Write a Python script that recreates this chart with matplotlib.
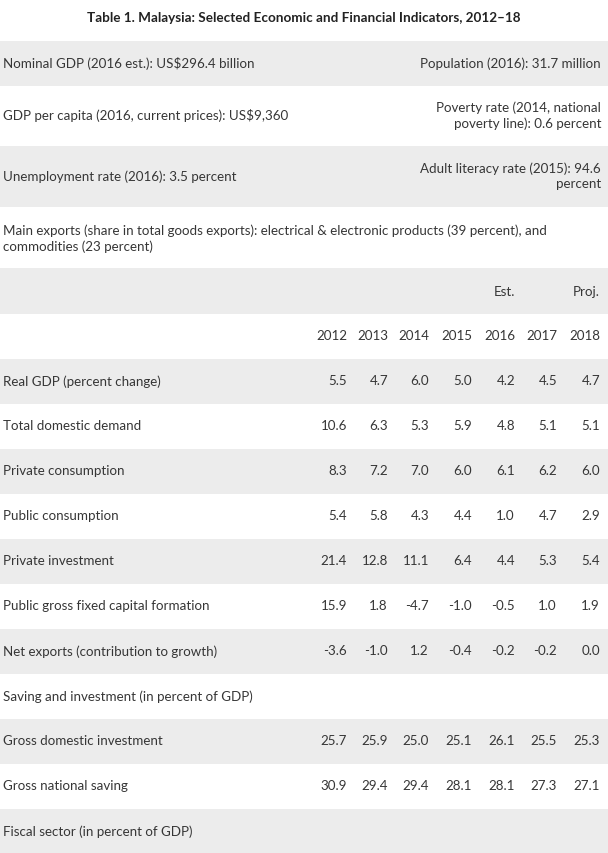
import matplotlib
matplotlib.use("Agg")
import matplotlib.pyplot as plt
from matplotlib.patches import Rectangle

plt.rcParams['font.family'] = ['Lato', 'DejaVu Sans']

title = "Table 1. Malaysia: Selected Economic and Financial Indicators, 2012\u201318"

info_left = [
    "Nominal GDP (2016 est.): US$296.4 billion",
    "GDP per capita (2016, current prices): US$9,360",
    "Unemployment rate (2016): 3.5 percent",
]
info_right = [
    "Population (2016): 31.7 million",
    "Poverty rate (2014, national\npoverty line): 0.6 percent",
    "Adult literacy rate (2015): 94.6\npercent",
]
exports_note = ("Main exports (share in total goods exports): electrical & electronic products (39 percent), and\n"
                "commodities (23 percent)")

years = ['2012', '2013', '2014', '2015', '2016', '2017', '2018']
year_notes = ['', '', '', '', 'Est.', '', 'Proj.']

row_labels = [
    "Real GDP (percent change)",
    "Total domestic demand",
    "Private consumption",
    "Public consumption",
    "Private investment",
    "Public gross fixed capital formation",
    "Net exports (contribution to growth)",
    "Saving and investment (in percent of GDP)",
    "Gross domestic investment",
    "Gross national saving",
    "Fiscal sector (in percent of GDP)",
]
row_values = [
    [5.5, 4.7, 6.0, 5.0, 4.2, 4.5, 4.7],
    [10.6, 6.3, 5.3, 5.9, 4.8, 5.1, 5.1],
    [8.3, 7.2, 7.0, 6.0, 6.1, 6.2, 6.0],
    [5.4, 5.8, 4.3, 4.4, 1.0, 4.7, 2.9],
    [21.4, 12.8, 11.1, 6.4, 4.4, 5.3, 5.4],
    [15.9, 1.8, -4.7, -1.0, -0.5, 1.0, 1.9],
    [-3.6, -1.0, 1.2, -0.4, -0.2, -0.2, 0.0],
    None,
    [25.7, 25.9, 25.0, 25.1, 26.1, 25.5, 25.3],
    [30.9, 29.4, 29.4, 28.1, 28.1, 27.3, 27.1],
    None,
]

# ---- layout (pixels) ----
W, H = 608, 854
fig = plt.figure(figsize=(W / 100, H / 100), dpi=100)
ax = fig.add_axes([0, 0, 1, 1])
ax.set_xlim(0, W)
ax.set_ylim(H, 0)
ax.axis('off')

GRAY = '#ececec'
TXT = '#363636'
FS = 9.6
LX = 3
RX = 601
col_right = [347, 388, 429, 472, 515, 557, 600]

def band(y0, y1, shaded):
    if shaded:
        ax.add_patch(Rectangle((0, y0), W, y1 - y0, facecolor=GRAY, edgecolor='none', zorder=0))

ax.text(304, 18, title, ha='center', va='center', fontsize=9.75, fontweight='bold', color='#222222')

top_rows = [(42, 87), (87, 147), (147, 208)]
for i, (y0, y1) in enumerate(top_rows):
    band(y0, y1, i % 2 == 0)
    yc = (y0 + y1) / 2 - 1
    ax.text(LX, yc, info_left[i], ha='left', va='center', fontsize=FS, color=TXT)
    ax.text(RX, yc, info_right[i], ha='right', va='center', fontsize=FS, color=TXT,
            linespacing=1.33, multialignment='right')

# exports note
ax.text(LX, 239, exports_note, ha='left', va='center', fontsize=FS, color=TXT, linespacing=1.33)

# Est./Proj. row
band(269, 315, True)
for j, note in enumerate(year_notes):
    if note:
        ax.text(col_right[j], 292, note, ha='right', va='center', fontsize=FS, color=TXT)

# years row
for j, yr in enumerate(years):
    ax.text(col_right[j], 336, yr, ha='right', va='center', fontsize=FS, color=TXT)

# data rows
y0 = 360
rh = 45
for i, (lab, vals) in enumerate(zip(row_labels, row_values)):
    a = y0 + i * rh
    band(a, a + rh, i % 2 == 0)
    yc = a + rh / 2 - 1
    ax.text(LX, yc, lab, ha='left', va='center', fontsize=FS, color=TXT)
    if vals is not None:
        for j, v in enumerate(vals):
            ax.text(col_right[j], yc, f"{v:.1f}", ha='right', va='center', fontsize=FS, color=TXT)

fig.savefig('out.png', dpi=100, facecolor='white')
